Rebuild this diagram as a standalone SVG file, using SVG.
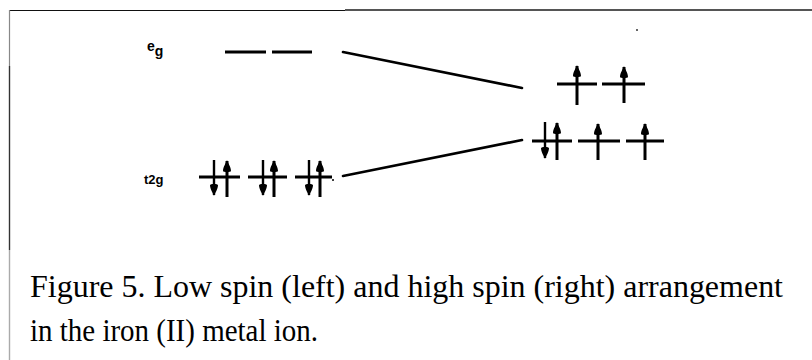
<svg xmlns="http://www.w3.org/2000/svg" width="812" height="360" viewBox="0 0 812 360">
<style>
.lvl{stroke:#000;stroke-width:3;stroke-linecap:butt}
.con{stroke:#000;stroke-width:2.6;fill:none;stroke-linecap:round}
.up{stroke:#000;stroke-width:3;marker-end:url(#head)}
.dn{stroke:#000;stroke-width:2.4;marker-end:url(#head)}
.lab{font-family:"Liberation Sans",Arial,sans-serif;font-weight:bold;fill:#000}
.cap{font-family:"Liberation Serif","Times New Roman",serif;font-size:32px;fill:#000}
</style>
<defs>
<marker id="head" viewBox="0 0 13 9" refX="12" refY="4.5" markerWidth="13" markerHeight="9" markerUnits="userSpaceOnUse" orient="auto">
<path d="M13,4.5 C10,3.5 6,0.5 2,0.5 C0.5,0.5 0.5,8.5 2,8.5 C6,8.5 10,5.5 13,4.5 Z" fill="#000"/>
</marker>
</defs>
<rect width="812" height="360" fill="#fff"/>
<g id="frame">
<line x1="9" y1="10.5" x2="345" y2="10.5" stroke="#111" stroke-width="1.2"/>
<line x1="345" y1="10" x2="812" y2="10" stroke="#555" stroke-width="2"/>
<line x1="9.5" y1="10" x2="9.5" y2="66" stroke="#888" stroke-width="1.2"/>
<line x1="9.5" y1="66" x2="9.5" y2="250" stroke="#333" stroke-width="1.4"/>
<line x1="9.5" y1="250" x2="9.5" y2="360" stroke="#aaa" stroke-width="1.4"/>
<circle cx="637" cy="30" r="1" fill="#333"/>
</g>
<g id="connectors">
<line class="con" x1="343" y1="52" x2="522" y2="88"/>
<line class="con" x1="343" y1="176" x2="522" y2="140"/>
<circle cx="333" cy="180" r="1" fill="#000"/>
</g>
<g id="label-eg">
<text class="lab" x="147" y="51" font-size="14">e<tspan dy="5">g</tspan></text>
</g>
<g id="label-t2g">
<text class="lab" x="144" y="184" font-size="13">t<tspan>2g</tspan></text>
</g>
<g id="left-eg">
<line class="lvl" x1="225" y1="52" x2="266" y2="52"/>
<line class="lvl" x1="272" y1="52" x2="312" y2="52"/>
</g>
<g id="left-t2g">
<line class="lvl" x1="199" y1="177" x2="240" y2="177"/>
<line class="lvl" x1="248" y1="177" x2="287" y2="177"/>
<line class="lvl" x1="295" y1="177" x2="332" y2="177"/>
<line class="dn" x1="214" y1="160" x2="214" y2="195"/>
<line class="up" x1="227" y1="197" x2="227" y2="161"/>
<line class="dn" x1="263" y1="160" x2="263" y2="195"/>
<line class="up" x1="274" y1="197" x2="274" y2="161"/>
<line class="dn" x1="309" y1="160" x2="309" y2="195"/>
<line class="up" x1="320" y1="197" x2="320" y2="161"/>
</g>
<g id="right-eg">
<line class="lvl" x1="557" y1="84" x2="597" y2="84"/>
<line class="lvl" x1="602" y1="84" x2="645" y2="84"/>
<line class="up" x1="577" y1="105" x2="577" y2="66"/>
<line class="up" x1="624" y1="103" x2="624" y2="67"/>
</g>
<g id="right-t2g">
<line class="lvl" x1="532" y1="141" x2="572" y2="141"/>
<line class="lvl" x1="578" y1="141" x2="620" y2="141"/>
<line class="lvl" x1="626" y1="141" x2="664" y2="141"/>
<line class="dn" x1="545" y1="122" x2="545" y2="158"/>
<line class="up" x1="557" y1="160" x2="557" y2="123"/>
<line class="up" x1="598" y1="160" x2="598" y2="124"/>
<line class="up" x1="645" y1="160" x2="645" y2="124"/>
</g>
<g id="caption">
<text class="cap" x="30" y="297" textLength="753" lengthAdjust="spacingAndGlyphs">Figure 5. Low spin (left) and high spin (right) arrangement</text>
<text class="cap" x="30" y="341" textLength="288" lengthAdjust="spacingAndGlyphs">in the iron (II) metal ion.</text>
</g>
</svg>
